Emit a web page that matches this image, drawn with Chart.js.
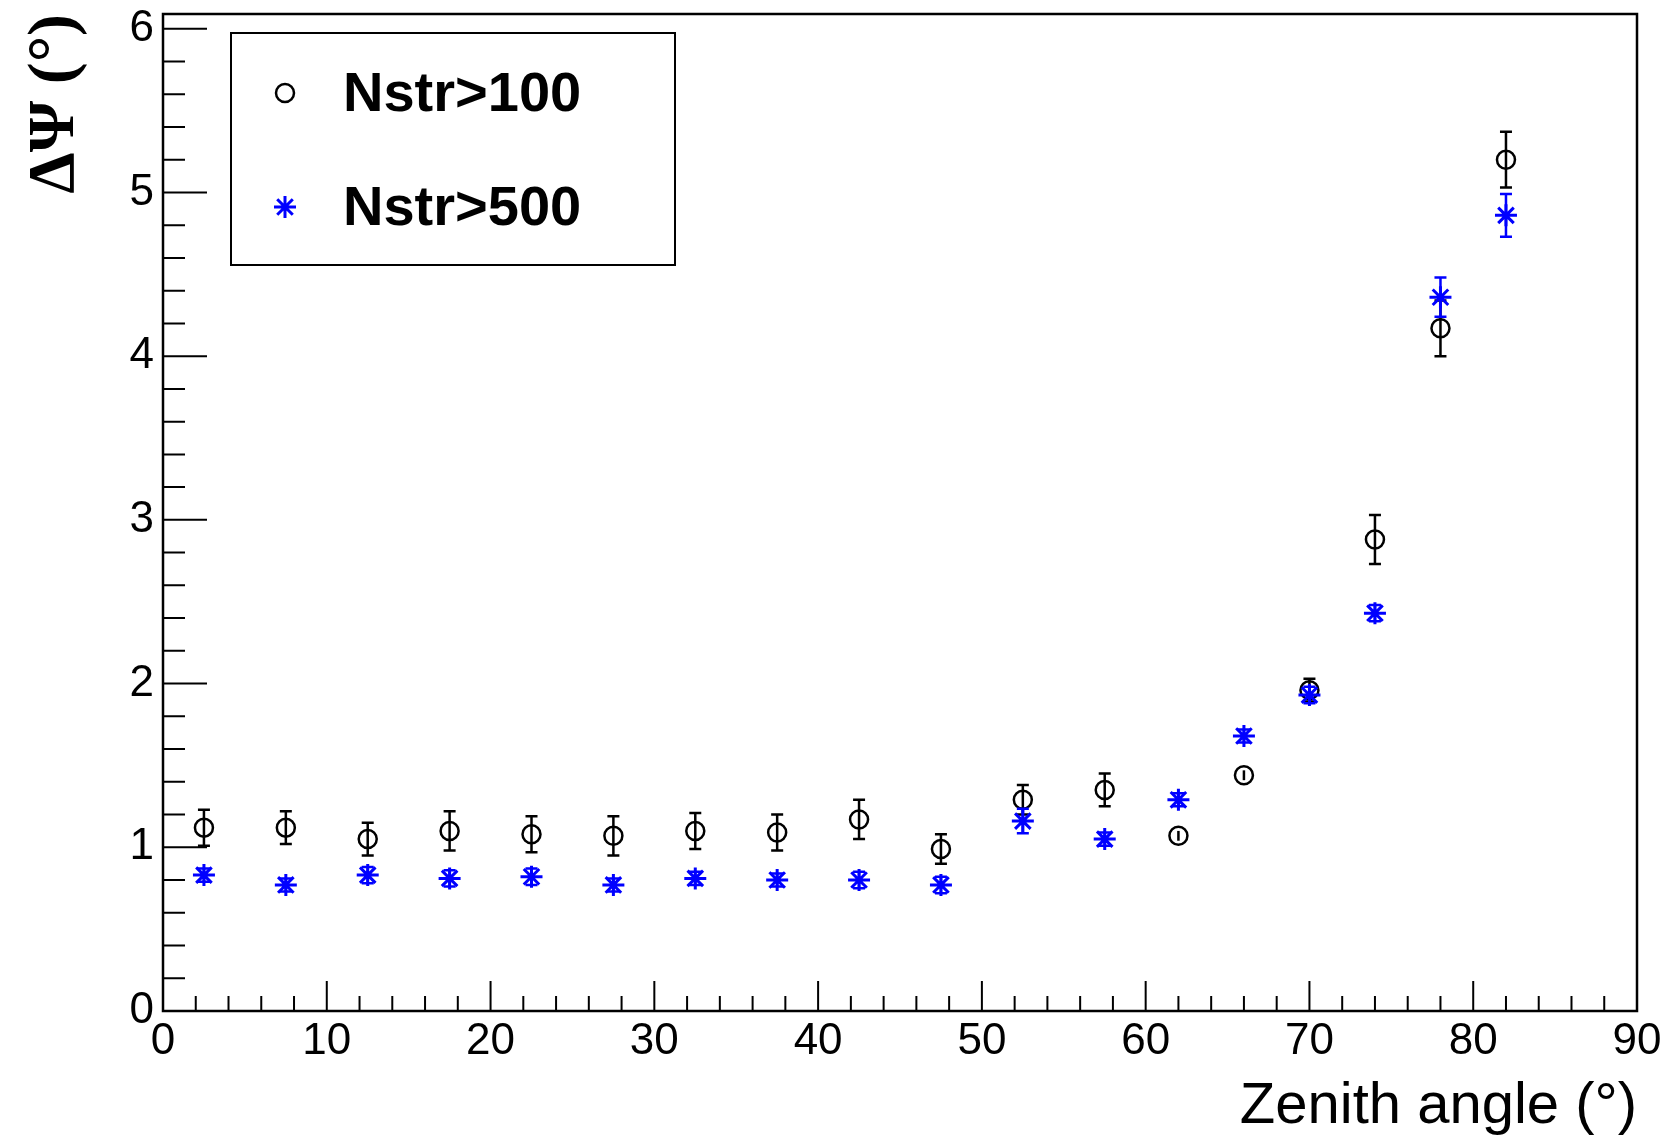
<!DOCTYPE html>
<html>
<head>
<meta charset="utf-8">
<script src="https://cdn.jsdelivr.net/npm/chart.js"></script>
<style>
  body { margin: 0; background: #fff; }
  #wrap { width: 1670px; height: 1138px; }
</style>
</head>
<body>
<div id="wrap"><canvas id="chart" width="1670" height="1138"></canvas></div>
<script>
// zenith angle bins (deg)
const zenith = [2.5, 7.5, 12.5, 17.5, 22.5, 27.5, 32.5, 37.5, 42.5, 47.5, 52.5, 57.5, 62, 66, 70, 74, 78, 82];
// angular resolution, Nstr>100
const psi100 = [1.12, 1.12, 1.05, 1.10, 1.08, 1.07, 1.10, 1.09, 1.17, 0.99, 1.29, 1.35, 1.07, 1.44, 1.96, 2.88, 4.17, 5.20];
const err100 = [0.11, 0.10, 0.10, 0.12, 0.11, 0.12, 0.11, 0.11, 0.12, 0.09, 0.09, 0.10, 0.03, 0.03, 0.07, 0.15, 0.17, 0.17];
// angular resolution, Nstr>500
const psi500 = [0.83, 0.77, 0.83, 0.81, 0.82, 0.77, 0.81, 0.80, 0.80, 0.77, 1.16, 1.05, 1.29, 1.68, 1.93, 2.43, 4.36, 4.86];
const err500 = [0.04, 0.04, 0.05, 0.05, 0.05, 0.04, 0.04, 0.04, 0.05, 0.05, 0.075, 0.04, 0.04, 0.04, 0.05, 0.05, 0.12, 0.13];

const xTicks = [0, 10, 20, 30, 40, 50, 60, 70, 80, 90];
const yTicks = [0, 1, 2, 3, 4, 5, 6];
const labels = ["Nstr>100", "Nstr>500"];

const sans = "'Liberation Sans', Arial, Helvetica, sans-serif";
const serif = "'Liberation Serif', 'Times New Roman', serif";

function points(ys, es) {
  return zenith.map((x, i) => ({ x: x, y: ys[i], e: es[i] }));
}

function drawMarker(ctx, style, color, x, y, r, lw) {
  ctx.save();
  ctx.strokeStyle = color;
  ctx.lineWidth = lw;
  ctx.beginPath();
  if (style === "circle") {
    ctx.arc(x, y, r, 0, Math.PI * 2);
  } else {
    const d = r * Math.SQRT1_2;
    ctx.moveTo(x - r, y); ctx.lineTo(x + r, y);
    ctx.moveTo(x, y - r); ctx.lineTo(x, y + r);
    ctx.moveTo(x - d, y - d); ctx.lineTo(x + d, y + d);
    ctx.moveTo(x - d, y + d); ctx.lineTo(x + d, y - d);
  }
  ctx.stroke();
  ctx.restore();
}

// error bars, drawn just before each dataset's markers
const errorBars = {
  id: "errorBars",
  beforeDatasetDraw(chart, args) {
    const ds = chart.data.datasets[args.index];
    const ctx = chart.ctx;
    const ys = chart.scales.y;
    ctx.save();
    ctx.strokeStyle = ds.borderColor;
    ctx.lineWidth = 2.5;
    args.meta.data.forEach((pt, i) => {
      const d = ds.data[i];
      const top = ys.getPixelForValue(d.y + d.e);
      const bot = ys.getPixelForValue(d.y - d.e);
      ctx.beginPath();
      ctx.moveTo(pt.x, top);
      ctx.lineTo(pt.x, bot);
      if (bot - pt.y > ds.capMin) {
        ctx.moveTo(pt.x - 6, top); ctx.lineTo(pt.x + 6, top);
        ctx.moveTo(pt.x - 6, bot); ctx.lineTo(pt.x + 6, bot);
      }
      ctx.stroke();
    });
    ctx.restore();
  }
};

// ROOT style frame with inward ticks
const frame = {
  id: "frame",
  afterDatasetsDraw(chart) {
    const { ctx, chartArea: a, scales } = chart;
    ctx.save();
    ctx.strokeStyle = "#000";
    ctx.lineWidth = 2.5;
    ctx.strokeRect(a.left, a.top, a.right - a.left, a.bottom - a.top);
    ctx.lineWidth = 2;
    ctx.beginPath();
    for (let v = 0; v <= 90; v += 2) {
      const px = scales.x.getPixelForValue(v);
      const len = v % 10 === 0 ? 30 : 15;
      ctx.moveTo(px, a.bottom); ctx.lineTo(px, a.bottom - len);
    }
    for (let k = 0; k <= 30; k++) {
      const v = k * 0.2;
      const py = scales.y.getPixelForValue(v);
      const len = k % 5 === 0 ? 44 : 22;
      ctx.moveTo(a.left, py); ctx.lineTo(a.left + len, py);
    }
    ctx.stroke();
    ctx.restore();
  }
};

const legendBox = {
  id: "legendBox",
  afterDraw(chart) {
    const ctx = chart.ctx;
    ctx.save();
    ctx.fillStyle = "#fff";
    ctx.fillRect(231, 33, 444, 232);
    ctx.strokeStyle = "#000";
    ctx.lineWidth = 2;
    ctx.strokeRect(231, 33, 444, 232);
    const rows = [93, 207];
    chart.data.datasets.forEach((ds, i) => {
      drawMarker(ctx, ds.pointStyle, ds.borderColor, 285, rows[i], ds.pointRadius, ds.pointBorderWidth);
      ctx.fillStyle = "#000";
      ctx.font = "bold 56px " + sans;
      ctx.textBaseline = "middle";
      ctx.textAlign = "left";
      ctx.fillText(ds.label, 343, rows[i] + 3);
    });
    ctx.restore();
  }
};

new Chart(document.getElementById("chart"), {
  type: "scatter",
  data: {
    datasets: [
      {
        label: labels[0],
        data: points(psi100, err100),
        pointStyle: "circle",
        pointRadius: 9,
        pointBorderWidth: 2.5,
        borderColor: "#000000",
        backgroundColor: "rgba(0,0,0,0)",
        capMin: 9,
        order: 1
      },
      {
        label: labels[1],
        data: points(psi500, err500),
        pointStyle: "star",
        pointRadius: 11,
        pointBorderWidth: 3,
        borderColor: "#0000ff",
        backgroundColor: "#0000ff",
        capMin: 3,
        order: 0
      }
    ]
  },
  options: {
    responsive: false,
    animation: false,
    events: [],
    layout: { padding: { left: 0, top: 12, right: 33, bottom: 0 } },
    plugins: { legend: { display: false }, tooltip: { enabled: false } },
    scales: {
      x: {
        type: "linear",
        position: "bottom",
        min: 0,
        max: 90,
        afterBuildTicks: s => { s.ticks = xTicks.map(v => ({ value: v })); },
        afterFit: s => { s.height = 127; s.paddingLeft = 0; s.paddingRight = 0; },
        grid: { display: false, drawTicks: false },
        border: { display: false },
        ticks: { color: "#000", padding: 4, maxRotation: 0, font: { family: sans, size: 44, lineHeight: 1.2 } },
        title: {
          display: true,
          text: "Zenith angle (°)",
          align: "end",
          color: "#000",
          padding: 0,
          font: { family: sans, size: 58, lineHeight: 1.08 }
        }
      },
      y: {
        type: "linear",
        min: 0,
        max: 6.09,
        afterBuildTicks: s => { s.ticks = yTicks.map(v => ({ value: v })); },
        afterFit: s => { s.width = 163; s.paddingTop = 0; s.paddingBottom = 0; },
        grid: { display: false, drawTicks: false },
        border: { display: false },
        ticks: { color: "#000", padding: 9, font: { family: sans, size: 44, lineHeight: 1.2 } },
        title: {
          display: true,
          text: "ΔΨ (°)",
          align: "end",
          color: "#000",
          padding: { top: 16, bottom: 0 },
          font: { family: serif, size: 66, weight: "bold", lineHeight: 1.2 }
        }
      }
    }
  },
  plugins: [errorBars, frame, legendBox]
});
</script>
</body>
</html>
